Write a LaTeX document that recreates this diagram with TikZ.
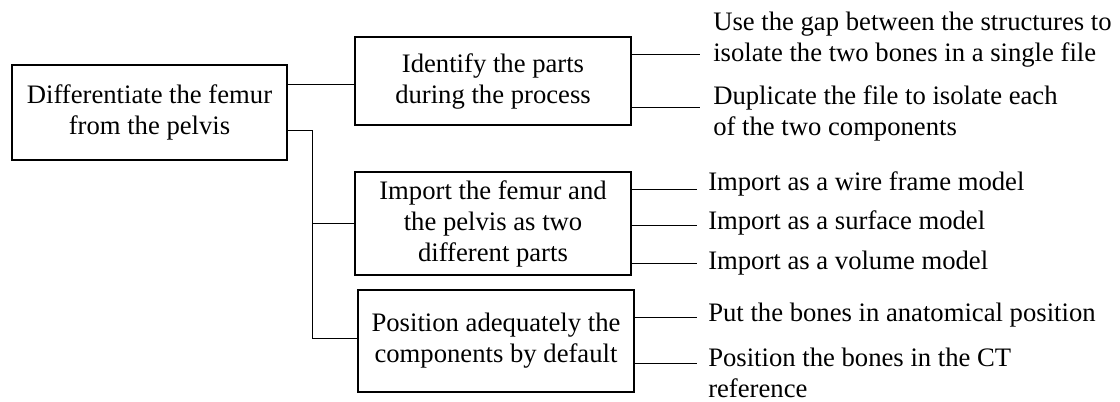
\documentclass[tikz,border=0pt]{standalone}
\usepackage{fontspec}
\setmainfont{Liberation Serif}
\begin{document}
\begin{tikzpicture}[x=0.75pt,y=-0.75pt,
  txt/.style={font=\fontsize{20}{23.25}\selectfont},
  box/.style={txt,draw,line width=1.4pt,align=center,inner sep=0pt},
  leaf/.style={txt,anchor=west,align=left,inner sep=0pt},
  link/.style={line width=0.7pt}]
\useasboundingbox (0,0) rectangle (1120,402);

% boxes
\node[box,minimum width={275*0.75pt},minimum height={95*0.75pt}] (root) at (149.5,112.5)
  {Differentiate the femur\\from the pelvis};
\node[box,minimum width={276*0.75pt},minimum height={88*0.75pt}] (ident) at (493,81)
  {Identify the parts\\during the process};
\node[box,minimum width={276*0.75pt},minimum height={103*0.75pt}] (imp) at (493,223.5)
  {Import the femur and\\the pelvis as two\\different parts};
\node[box,minimum width={276*0.75pt},minimum height={102*0.75pt}] (pos) at (496,341)
  {Position adequately the\\components by default};

% leaf labels
\node[leaf] (l1) at (713,40) {Use the gap between the structures to\\isolate the two bones in a single file};
\node[leaf] (l2) at (713,113) {Duplicate the file to isolate each\\of the two components};
\node[leaf] (l3) at (708,184) {Import as a wire frame model};
\node[leaf] (l4) at (708,223) {Import as a surface model};
\node[leaf] (l5) at (708,263) {Import as a volume model};
\node[leaf] (l6) at (708,315) {Put the bones in anatomical position};
\node[leaf] (l7) at (708,373) {Position the bones in the CT\\reference};

% tree connectors
\coordinate (trunk) at (312,130);
\coordinate (rA) at (287,84);
\draw[link] (rA) -- (ident.west |- rA);
\draw[link] (root.east |- trunk) -- (trunk) |- (pos.west |- 0,338);
\draw[link] (trunk |- imp.west) -- (imp.west);

% leaf connectors
\coordinate (e1) at (700,54);
\coordinate (e2) at (700,107);
\coordinate (e3) at (697,189);
\coordinate (e4) at (697,225);
\coordinate (e5) at (697,263);
\coordinate (e6) at (697,317);
\coordinate (e7) at (697,363);
\draw[link] (ident.east |- e1) -- (e1);
\draw[link] (ident.east |- e2) -- (e2);
\draw[link] (imp.east |- e3) -- (e3);
\draw[link] (imp.east |- e4) -- (e4);
\draw[link] (imp.east |- e5) -- (e5);
\draw[link] (pos.east |- e6) -- (e6);
\draw[link] (pos.east |- e7) -- (e7);
\end{tikzpicture}
\end{document}
